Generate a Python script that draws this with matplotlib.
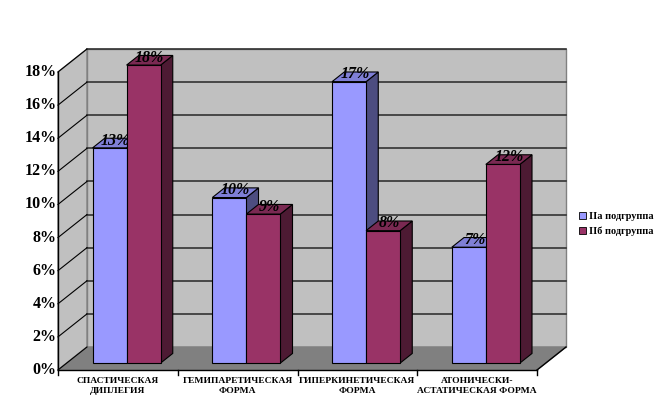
import matplotlib.pyplot as plt
from matplotlib.patches import Polygon, Patch

# data
categories = ['СПАСТИЧЕСКАЯ\nДИПЛЕГИЯ', 'ГЕМИПАРЕТИЧЕСКАЯ\nФОРМА',
              'ГИПЕРКИНЕТИЧЕСКАЯ\nФОРМА', 'АТОНИЧЕСКИ-\nАСТАТИЧЕСКАЯ ФОРМА']
series_names = ['IIа подгруппа', 'IIб подгруппа']
group_a = [13, 10, 17, 7]
group_b = [18, 9, 8, 12]
y_ticks = [0, 2, 4, 6, 8, 10, 12, 14, 16, 18]
y_max = 18

# colours: front, top, side
colors = [('#9999FF', '#7F7FD6', '#4D4D80'),
          ('#993366', '#7A2952', '#4D1A33')]

SERIF = 'Liberation Serif'

# pixel anchors of the front plane (0 at x=58, 4 at x=537; 0% at y=370, 18% at y=72)
W, H = 661, 411
px_cat = (537 - 58) / len(categories)
px_pct = (370 - 72) / y_max

# depth of the 3D box in data units
dx = 29 / px_cat
dy = 23 / px_pct
f0, f1 = 0.3, 0.72      # bar front / back depth fraction
bw = 34 / px_cat        # bar width

fig = plt.figure(figsize=(W / 100, H / 100), dpi=100)
ax = fig.add_axes([0, 0, 1, 1])
ax.set_xlim(-58 / px_cat, (W - 58) / px_cat)
ax.set_ylim(-(H - 370) / px_pct, 370 / px_pct)
ax.axis('off')

n = len(categories)

# walls
ax.add_patch(Polygon([(dx, dy), (n + dx, dy), (n + dx, y_max + dy), (dx, y_max + dy)],
                     closed=True, fc='#C0C0C0', ec='#808080', lw=1, zorder=1))
ax.add_patch(Polygon([(0, 0), (dx, dy), (dx, y_max + dy), (0, y_max)],
                     closed=True, fc='#C0C0C0', ec='#808080', lw=1, zorder=1))
ax.add_patch(Polygon([(0, 0), (n, 0), (n + dx, dy), (dx, dy)],
                     closed=True, fc='#808080', ec='#808080', lw=1, zorder=1))

# gridlines
for v in y_ticks[1:]:
    ax.plot([dx, n + dx], [v + dy, v + dy], color='#333333', lw=1.2, zorder=2)
for v in y_ticks:
    ax.plot([0, dx], [v, v + dy], color='black', lw=0.8, zorder=2)

# axes lines
ax.plot([0, 0], [0, y_max], color='black', lw=1, zorder=6)
ax.plot([0, n], [0, 0], color='black', lw=1, zorder=6)
ax.plot([n, n + dx], [0, dy], color='black', lw=1, zorder=6)
for i in range(n + 1):
    ax.plot([i, i], [0, -0.3], color='black', lw=1, zorder=6)

# y tick labels
for v in y_ticks:
    ax.text(-0.01, v, f'{v}%', ha='right', va='center', fontsize=11.5,
            fontweight='bold', family=SERIF)

# category labels
for i, lab in enumerate(categories):
    ax.text(i + 0.5, -0.45, lab, ha='center', va='top', fontsize=6.8,
            fontweight='bold', family=SERIF, linespacing=1.3)


def bar3d(x0, v, cols, z):
    front, top, side = cols
    ox, oy = f0 * dx, f0 * dy
    ddx, ddy = (f1 - f0) * dx, (f1 - f0) * dy
    x0 += ox
    x1 = x0 + bw
    y0, y1 = oy, v + oy
    ax.add_patch(Polygon([(x1, y0), (x1 + ddx, y0 + ddy), (x1 + ddx, y1 + ddy), (x1, y1)],
                         closed=True, fc=side, ec='black', lw=0.8, zorder=z))
    ax.add_patch(Polygon([(x0, y1), (x1, y1), (x1 + ddx, y1 + ddy), (x0 + ddx, y1 + ddy)],
                         closed=True, fc=top, ec='black', lw=0.8, zorder=z))
    ax.add_patch(Polygon([(x0, y0), (x1, y0), (x1, y1), (x0, y1)],
                         closed=True, fc=front, ec='black', lw=0.8, zorder=z))
    ax.text((x0 + x1) / 2 + ddx / 2, y1 + ddy / 2 + 0.15, f'{v}%', ha='center', va='center',
            fontsize=11.5, fontweight='bold', style='italic', family=SERIF, zorder=z + 0.5)


for i in range(n):
    start = i + 0.5 - bw
    bar3d(start, group_a[i], colors[0], 3 + i * 2)
    bar3d(start + bw, group_b[i], colors[1], 4 + i * 2)

handles = [Patch(fc=colors[k][0], ec='black', lw=0.6) for k in range(2)]
fig.legend(handles, series_names, loc='center left', bbox_to_anchor=(577 / W, 1 - 224 / H),
           frameon=False, handlelength=0.7, handleheight=0.7, handletextpad=0.3,
           labelspacing=0.6, borderaxespad=0, borderpad=0.2,
           prop={'family': SERIF, 'weight': 'bold', 'size': 7.4})

fig.savefig('out.png', dpi=100)
